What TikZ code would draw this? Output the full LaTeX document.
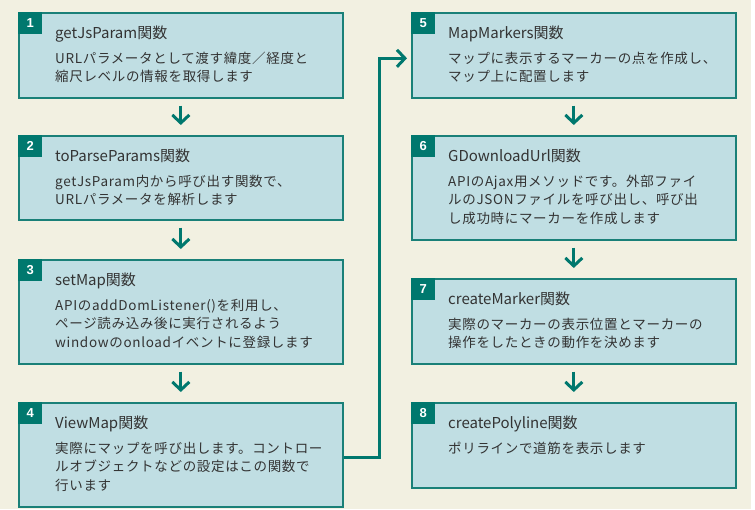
\documentclass[tikz,border=0pt]{standalone}
\usepackage{fontspec}
\setmainfont{Noto Sans CJK JP}
\newfontfamily\descfont{Noto Sans CJK JP}[LetterSpace=5]
\newfontfamily\tagfont{Liberation Sans}
\usetikzlibrary{arrows.meta}
\definecolor{cream}{HTML}{F2F0E1}
\definecolor{boxfill}{HTML}{C0DEE3}
\definecolor{boxline}{HTML}{1A8078}
\definecolor{tealdark}{HTML}{00786E}
\definecolor{txt}{HTML}{333333}
\tikzset{
  fbox/.style={draw=boxline, fill=boxfill, line width=1.6pt, minimum width=324pt, inner sep=0pt},
  ftag/.style={fill=tealdark, text=white, minimum width=24pt, minimum height=22pt, inner sep=0pt, font=\tagfont\bfseries\fontsize{13}{13}\selectfont},
  ftitle/.style={anchor=base west, inner sep=0pt, text=txt, font=\fontsize{15}{18}\selectfont},
  fdesc/.style={anchor=base west, inner sep=0pt, text=txt, font=\descfont\fontsize{13.5}{18}\selectfont},
  conn/.style={draw=tealdark, line width=3pt, -{Straight Barb[length=8pt,width=17pt]}},
}
\newcommand\flowbox[6]{%
  \node[fbox, minimum height=#4pt, anchor=north west] (#1) at (#2,#3) {};
  \node[ftag, anchor=north west] (#1n) at (#1.north west) {#5};
  \node[ftitle] (#1t) at ([xshift=37pt,yshift=-26.5pt]#1.north west) {#6};
}
\newcommand\flowdesc[2]{%
  \foreach \ln [count=\i] in {#2} {
    \node[fdesc] (#1d\i) at ([xshift=37pt,yshift={-51pt-18.5pt*(\i-1)}]#1.north west) {\ln};
  }
}
\begin{document}
\begin{tikzpicture}[x=1pt,y=-1pt]
\useasboundingbox (0,0) rectangle (755,509);
\fill[white] (0,0) rectangle (755,509);
\fill[cream] (0,0) rectangle (751,509);

\flowbox{b1}{18}{12}{85}{1}{getJsParam関数}
\flowdesc{b1}{URLパラメータとして渡す緯度／経度と, 縮尺レベルの情報を取得します}
\flowbox{b2}{18}{135}{84}{2}{toParseParams関数}
\flowdesc{b2}{getJsParam内から呼び出す関数で、, URLパラメータを解析します}
\flowbox{b3}{18}{259}{104}{3}{setMap関数}
\flowdesc{b3}{APIのaddDomListener()を利用し、, ページ読み込み後に実行されるよう, windowのonloadイベントに登録します}
\flowbox{b4}{18}{402}{104}{4}{ViewMap関数}
\flowdesc{b4}{実際にマップを呼び出します。コントロー, ルオブジェクトなどの設定はこの関数で, 行います}

\flowbox{b5}{411}{12}{85}{5}{MapMarkers関数}
\flowdesc{b5}{マップに表示するマーカーの点を作成し、, マップ上に配置します}
\flowbox{b6}{411}{135}{104}{6}{GDownloadUrl関数}
\flowdesc{b6}{APIのAjax用メソッドです。外部ファイ, ルのJSONファイルを呼び出し、呼び出, し成功時にマーカーを作成します}
\flowbox{b7}{411}{278}{85}{7}{createMarker関数}
\flowdesc{b7}{実際のマーカーの表示位置とマーカーの, 操作をしたときの動作を決めます}
\flowbox{b8}{411}{402}{85}{8}{createPolyline関数}
\flowdesc{b8}{ポリラインで道筋を表示します}

\draw[conn] ([yshift=-7pt]b1.south) -- ([yshift=10pt]b2.north);
\draw[conn] ([yshift=-7pt]b2.south) -- ([yshift=10pt]b3.north);
\draw[conn] ([yshift=-7pt]b3.south) -- ([yshift=10pt]b4.north);
\draw[conn] ([yshift=-7pt]b5.south) -- ([yshift=10pt]b6.north);
\draw[conn] ([yshift=-7pt]b6.south) -- ([yshift=10pt]b7.north);
\draw[conn] ([yshift=-7pt]b7.south) -- ([yshift=10pt]b8.north);
\draw[conn, line join=miter] ([yshift=-3pt]b4.east) -- ++(36,0) |- ([yshift=-3pt,xshift=-4pt]b5.west);
\end{tikzpicture}
\end{document}
